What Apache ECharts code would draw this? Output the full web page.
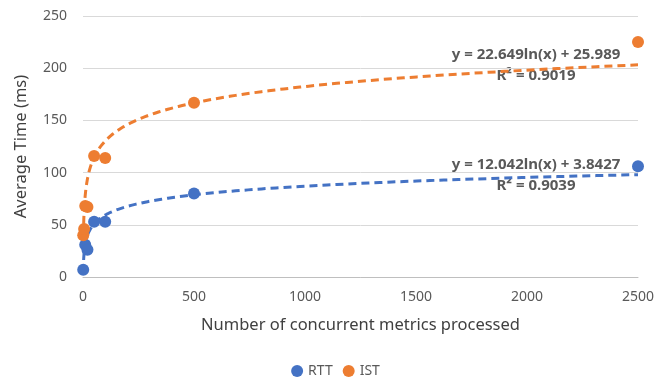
<!DOCTYPE html>
<html>
<head>
<meta charset="utf-8">
<script src="https://cdn.jsdelivr.net/npm/echarts@6/dist/echarts.min.js"></script>
<style>html,body{margin:0;padding:0;background:#fff;}#c{width:671px;height:380px;}</style>
</head>
<body>
<div id="c"></div>
<script>
// Data
var rttX = [1, 10, 20, 50, 100, 500, 2500];
var rttY = [7, 31, 26, 53, 53, 80, 106];
var istX = [1, 5, 10, 20, 50, 100, 500, 2500];
var istY = [40, 46, 68, 67, 116, 114, 167, 225];
// Trendline coefficients printed on the chart: y = a*ln(x) + b
var rttFit = {a: 12.042, b: 3.8427, label: 'y = 12.042ln(x) + 3.8427', r2: 'R² = 0.9039'};
var istFit = {a: 22.649, b: 25.989, label: 'y = 22.649ln(x) + 25.989', r2: 'R² = 0.9019'};
var xTicks = [0, 500, 1000, 1500, 2000, 2500];
var yTicks = [0, 50, 100, 150, 200, 250];

function pairs(xs, ys) { return xs.map(function (x, i) { return [x, ys[i]]; }); }
function curve(fit) {
  var pts = [];
  for (var i = 0; i <= 200; i++) {
    var x = Math.exp(Math.log(2500) * i / 200);
    pts.push([x, fit.a * Math.log(x) + fit.b]);
  }
  return pts;
}

var BLUE = '#4472C4', ORANGE = '#ED7D31', TXT = '#595959';
var FONT = 'Noto Sans';
var chart = echarts.init(document.getElementById('c'));
chart.setOption({
  animation: false,
  textStyle: {fontFamily: FONT},
  grid: {left: 83, right: 33, top: 16, bottom: 103, containLabel: false},
  legend: {
    data: ['RTT', 'IST'], top: 359, left: 'center', icon: 'circle',
    itemWidth: 12, itemHeight: 12, itemGap: 10,
    textStyle: {color: TXT, fontSize: 14, fontFamily: FONT}
  },
  xAxis: {
    type: 'value', min: xTicks[0], max: xTicks[xTicks.length - 1], interval: 500,
    name: 'Number of concurrent metrics processed', nameLocation: 'middle', nameGap: 40,
    nameTextStyle: {color: '#404040', fontSize: 16.5, fontFamily: FONT},
    axisLine: {show: true, lineStyle: {color: '#bfbfbf', width: 1}},
    axisTick: {show: false},
    splitLine: {show: false},
    axisLabel: {color: TXT, fontSize: 14, margin: 13, fontFamily: FONT,
      formatter: function (v) { return String(v); }}
  },
  yAxis: {
    type: 'value', min: yTicks[0], max: yTicks[yTicks.length - 1], interval: 50,
    name: 'Average Time (ms)', nameLocation: 'middle', nameGap: 53, nameRotate: 90,
    nameTextStyle: {color: '#404040', fontSize: 16.5, fontFamily: FONT},
    axisLine: {show: false}, axisTick: {show: false},
    splitLine: {lineStyle: {color: '#d9d9d9', width: 1}},
    axisLabel: {color: TXT, fontSize: 14, margin: 16, fontFamily: FONT}
  },
  series: [
    {name: 'RTT trend', type: 'line', data: curve(rttFit), showSymbol: false, symbol: 'none',
     lineStyle: {color: BLUE, width: 3, type: [8, 5]}, z: 2, silent: true},
    {name: 'IST trend', type: 'line', data: curve(istFit), showSymbol: false, symbol: 'none',
     lineStyle: {color: ORANGE, width: 3, type: [8, 5]}, z: 2, silent: true},
    {name: 'RTT', type: 'scatter', data: pairs(rttX, rttY), symbolSize: 12,
     itemStyle: {color: BLUE, opacity: 1}, z: 3},
    {name: 'IST', type: 'scatter', data: pairs(istX, istY), symbolSize: 12,
     itemStyle: {color: ORANGE, opacity: 1}, z: 3}
  ],
  graphic: [
    {type: 'text', x: 536, y: 55, style: {text: istFit.label, fill: TXT, font: 'bold 15px "Noto Sans"', align: 'center', verticalAlign: 'middle'}},
    {type: 'text', x: 536, y: 76, style: {text: istFit.r2, fill: TXT, font: 'bold 15px "Noto Sans"', align: 'center', verticalAlign: 'middle'}},
    {type: 'text', x: 536, y: 165, style: {text: rttFit.label, fill: TXT, font: 'bold 15px "Noto Sans"', align: 'center', verticalAlign: 'middle'}},
    {type: 'text', x: 536, y: 186, style: {text: rttFit.r2, fill: TXT, font: 'bold 15px "Noto Sans"', align: 'center', verticalAlign: 'middle'}}
  ]
});
</script>
</body>
</html>
